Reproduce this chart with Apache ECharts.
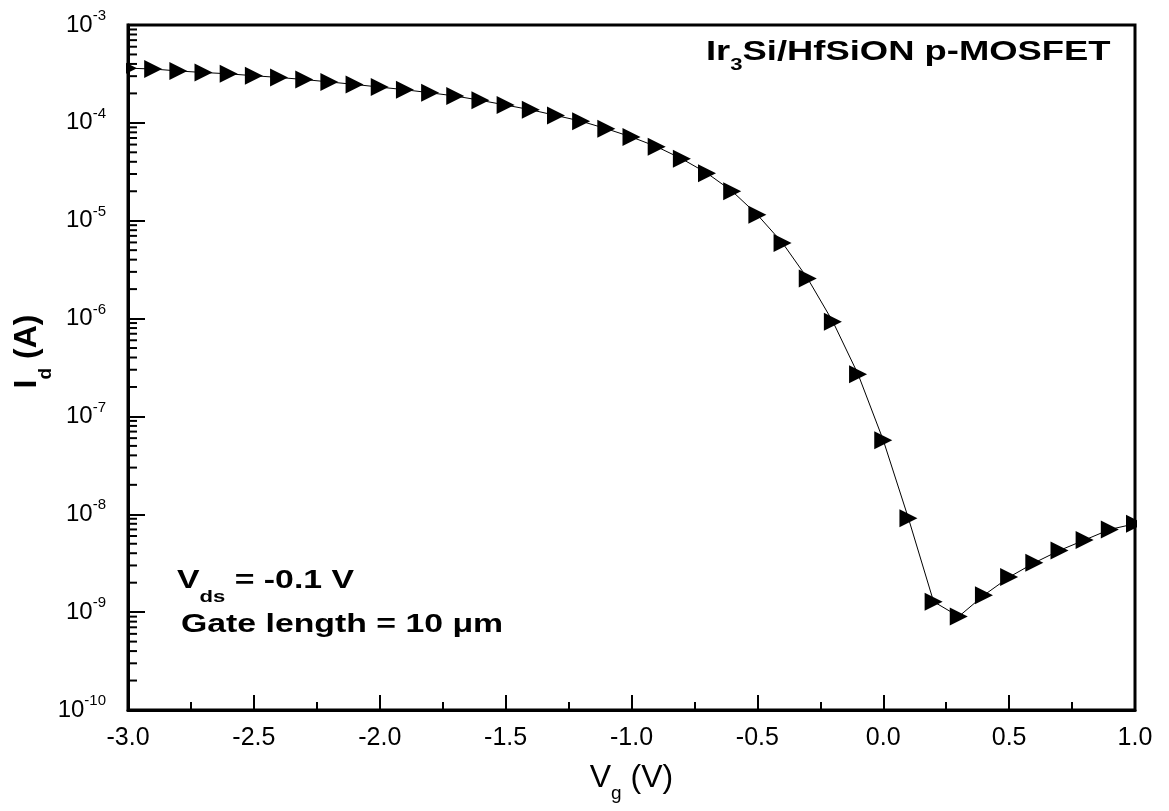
<!DOCTYPE html>
<html>
<head>
<meta charset="utf-8">
<script src="https://cdn.jsdelivr.net/npm/echarts@6/dist/echarts.min.js"></script>
<style>
  html, body { margin: 0; padding: 0; background: #fff; }
  #chart { width: 1169px; height: 811px; }
</style>
</head>
<body>
<div id="chart"></div>
<script>
// Gate voltage Vg (V)
const vg = [-3.0, -2.9, -2.8, -2.7, -2.6, -2.5, -2.4, -2.3, -2.2, -2.1,
            -2.0, -1.9, -1.8, -1.7, -1.6, -1.5, -1.4, -1.3, -1.2, -1.1,
            -1.0, -0.9, -0.8, -0.7, -0.6, -0.5, -0.4, -0.3, -0.2, -0.1,
             0.0,  0.1,  0.2,  0.3,  0.4,  0.5,  0.6,  0.7,  0.8,  0.9, 1.0];
// Drain current Id (A)
const id = [3.62e-4, 3.55e-4, 3.39e-4, 3.27e-4, 3.17e-4, 3.03e-4, 2.91e-4, 2.77e-4, 2.62e-4, 2.47e-4,
            2.32e-4, 2.18e-4, 2.03e-4, 1.88e-4, 1.70e-4, 1.52e-4, 1.36e-4, 1.19e-4, 1.04e-4, 8.71e-5,
            7.17e-5, 5.71e-5, 4.29e-5, 3.06e-5, 2.00e-5, 1.15e-5, 5.92e-6, 2.56e-6, 9.29e-7, 2.70e-7,
            5.72e-8, 9.10e-9, 1.28e-9, 9.03e-10, 1.49e-9, 2.28e-9, 3.19e-9, 4.27e-9, 5.46e-9, 7.00e-9, 8.0e-9];
// Axis tick values
const xTicks = [-3.0, -2.5, -2.0, -1.5, -1.0, -0.5, 0.0, 0.5, 1.0];
const yExponents = [-10, -9, -8, -7, -6, -5, -4, -3];
const yMinorMantissas = [2, 3, 4, 5, 6, 7, 8, 9];

const FONT = '"Liberation Sans", Arial, Helvetica, sans-serif';
const chart = echarts.init(document.getElementById('chart'), null, { renderer: 'canvas' });

const seriesData = vg.map((v, i) => [v, id[i]]);
const yMinorTicks = [];
yExponents.slice(0, -1).forEach(e => {
  yMinorMantissas.forEach(m => yMinorTicks.push([xTicks[0], m * Math.pow(10, e)]));
});

const GRID = { left: 128, right: 34, top: 25, bottom: 101 };

const option = {
  backgroundColor: '#ffffff',
  animation: false,
  textStyle: { fontFamily: FONT, color: '#000' },
  grid: Object.assign({
    show: true, borderColor: '#000', borderWidth: 3, backgroundColor: 'transparent'
  }, GRID),
  xAxis: {
    type: 'value',
    min: xTicks[0], max: xTicks[xTicks.length - 1], interval: 0.5,
    axisLine: { show: true, onZero: false, lineStyle: { color: '#000', width: 3 } },
    axisTick: { show: true, inside: true, length: 15, lineStyle: { color: '#000', width: 2 } },
    minorTick: { show: true, splitNumber: 2, length: 8, lineStyle: { color: '#000', width: 2 } },
    splitLine: { show: false },
    axisLabel: {
      margin: 16, fontSize: 25, color: '#000', fontFamily: FONT,
      formatter: v => v.toFixed(1)
    },
    name: '{b|V}{s|g}{b| (V)}',
    nameLocation: 'middle',
    nameGap: 52,
    nameTextStyle: {
      color: '#000', fontFamily: FONT,
      rich: {
        b: { fontSize: 32, verticalAlign: 'top', fontFamily: FONT, color: '#000' },
        s: { fontSize: 19, lineHeight: 41, verticalAlign: 'bottom', fontFamily: FONT, color: '#000' }
      }
    }
  },
  yAxis: {
    type: 'log',
    logBase: 10,
    min: Math.pow(10, yExponents[0]),
    max: Math.pow(10, yExponents[yExponents.length - 1]),
    splitNumber: 7,
    axisLine: { show: true, onZero: false, lineStyle: { color: '#000', width: 3 } },
    axisTick: { show: true, inside: true, length: 17, lineStyle: { color: '#000', width: 2 } },
    minorTick: { show: false },
    splitLine: { show: false },
    axisLabel: {
      margin: 22, color: '#000', fontFamily: FONT,
      formatter: v => '{b|10}{s|' + Math.round(Math.log10(v)) + '}',
      rich: {
        b: { fontSize: 24, lineHeight: 33, fontFamily: FONT, color: '#000' },
        s: { fontSize: 15, lineHeight: 15, verticalAlign: 'top', fontFamily: FONT, color: '#000' }
      }
    }
  },
  series: [
    {
      // minor ticks of the log axis (2..9 in each decade), placed through the axis scale
      type: 'custom',
      silent: true,
      clip: false,
      z: 1,
      data: yMinorTicks,
      renderItem: (params, api) => {
        const p = api.coord([api.value(0), api.value(1)]);
        return {
          type: 'line',
          shape: { x1: p[0], y1: p[1], x2: p[0] + 9, y2: p[1] },
          style: { stroke: '#000', lineWidth: 2 }
        };
      }
    },
    {
      type: 'line',
      data: seriesData,
      symbol: 'triangle',
      symbolRotate: -90,
      symbolSize: 18,
      showAllSymbol: true,
      itemStyle: { color: '#000' },
      lineStyle: { color: '#000', width: 1 },
      z: 3
    }
  ],
  graphic: [
    // white masks just outside the frame so edge markers look clipped by the plot border
    {
      type: 'rect', z: 100, silent: true,
      shape: { x: 112, y: GRID.top + 2, width: GRID.left - 114, height: 811 - GRID.top - GRID.bottom - 4 },
      style: { fill: '#ffffff' }
    },
    {
      type: 'rect', z: 100, silent: true,
      shape: { x: 1169 - GRID.right + 2, y: GRID.top + 2, width: 20, height: 811 - GRID.top - GRID.bottom - 4 },
      style: { fill: '#ffffff' }
    },
    {
      type: 'text', x: 11, y: 351.5, rotation: Math.PI / 2,
      style: {
        text: '{b|I}{d|d}{b| (A)}', align: 'center', verticalAlign: 'top', fill: '#000',
        rich: {
          b: { fontSize: 32, fontWeight: 'bold', verticalAlign: 'top', fontFamily: FONT, fill: '#000' },
          d: { fontSize: 19, fontWeight: 'bold', lineHeight: 44, verticalAlign: 'bottom', fontFamily: FONT, fill: '#000' }
        }
      }
    },
    {
      type: 'text', x: 706, y: 38, scaleX: 1.3,
      style: {
        text: '{b|Ir}{s|3}{b|Si/HfSiON p-MOSFET}', align: 'left', verticalAlign: 'top', fill: '#000',
        rich: {
          b: { fontSize: 28, fontWeight: 'bold', verticalAlign: 'top', fontFamily: FONT, fill: '#000' },
          s: { fontSize: 17, fontWeight: 'bold', lineHeight: 36, verticalAlign: 'bottom', fontFamily: FONT, fill: '#000' }
        }
      }
    },
    {
      type: 'text', x: 177, y: 568, scaleX: 1.3,
      style: {
        text: '{b|V}{s|ds}{b| = -0.1 V}', align: 'left', verticalAlign: 'top', fill: '#000',
        rich: {
          b: { fontSize: 26, fontWeight: 'bold', verticalAlign: 'top', fontFamily: FONT, fill: '#000' },
          s: { fontSize: 17, fontWeight: 'bold', lineHeight: 38, verticalAlign: 'bottom', fontFamily: FONT, fill: '#000' }
        }
      }
    },
    {
      type: 'text', x: 181, y: 612, scaleX: 1.3,
      style: {
        text: 'Gate length = 10 μm', align: 'left', verticalAlign: 'top', fill: '#000',
        font: 'bold 26px ' + FONT, lineHeight: 26
      }
    }
  ]
};

chart.setOption(option);
</script>
</body>
</html>
